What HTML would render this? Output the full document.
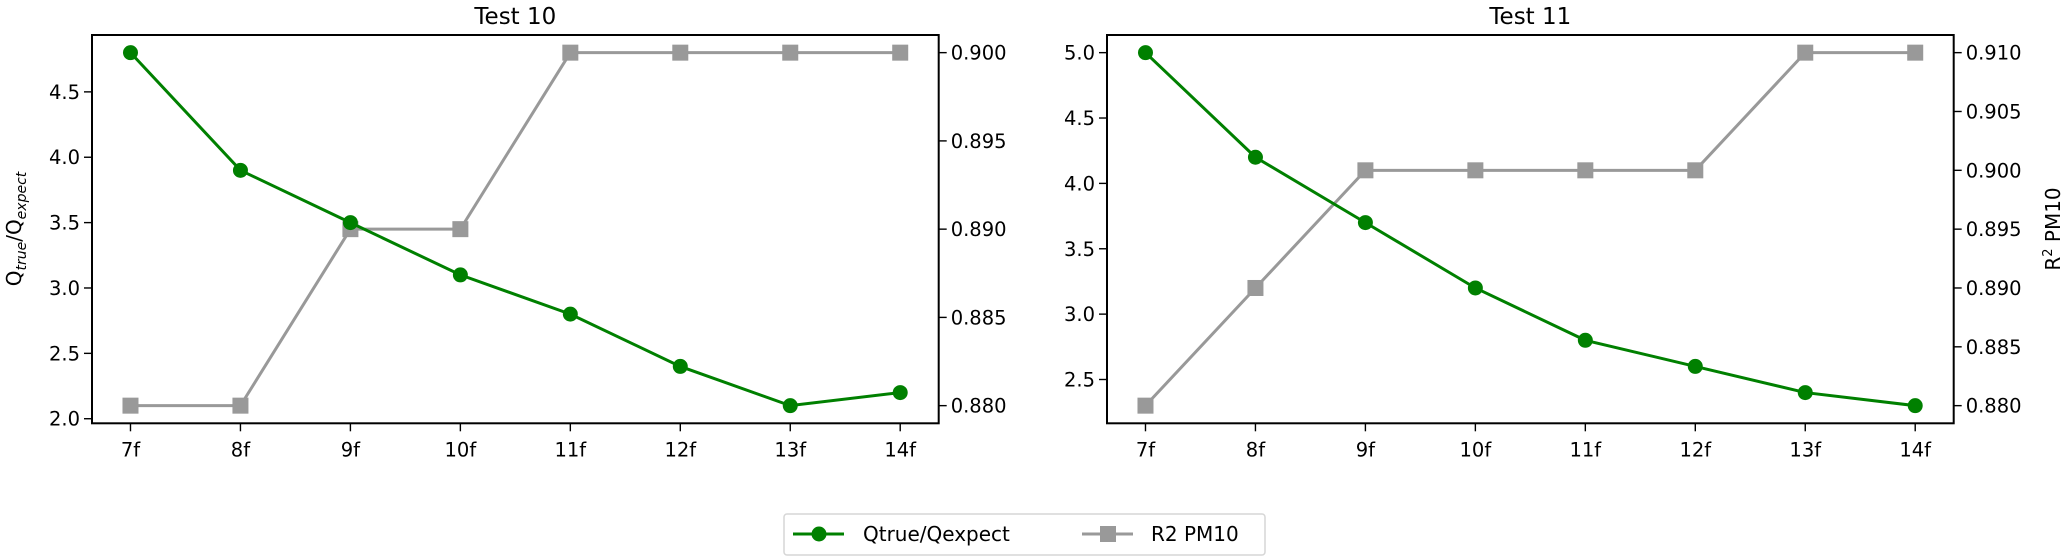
<!DOCTYPE html>
<html><head><meta charset="utf-8"><style>
html,body{margin:0;padding:0;background:#fff;}
svg{display:block;font-family:"DejaVu Sans","Liberation Sans",sans-serif;}
</style></head><body>
<svg id="chart" width="2067" height="557" viewBox="0 0 2067 557" xmlns="http://www.w3.org/2000/svg">
<g id="p0"></g>
<g id="p1"></g>
<g id="legend">
  <rect x="784" y="514" width="481" height="41" rx="3" fill="#fff" stroke="#d6d6d6" stroke-width="1.5"/>
  <g>
    <line x1="793" y1="534" x2="844" y2="534" stroke="#008000" stroke-width="3"/>
    <circle cx="819" cy="534" r="7.5" fill="#008000"/>
    <text x="863" y="541" font-size="20" fill="#000">Qtrue/Qexpect</text>
  </g>
  <g>
    <line x1="1082" y1="534" x2="1133" y2="534" stroke="#999" stroke-width="3"/>
    <rect x="1100" y="526" width="16" height="16" fill="#999"/>
    <text x="1151" y="541" font-size="20" fill="#000">R2 PM10</text>
  </g>
</g>
</svg>
<script>
const categories = ["7f","8f","9f","10f","11f","12f","13f","14f"];
const titles = ["Test 10","Test 11"];
const qTest10 = [4.8,3.9,3.5,3.1,2.8,2.4,2.1,2.2];
const r2Test10 = [0.880,0.880,0.890,0.890,0.900,0.900,0.900,0.900];
const qTest11 = [5.0,4.2,3.7,3.2,2.8,2.6,2.4,2.3];
const r2Test11 = [0.880,0.890,0.900,0.900,0.900,0.900,0.910,0.910];
const leftTicks10 = [2.0,2.5,3.0,3.5,4.0,4.5];
const rightTicks10 = [0.880,0.885,0.890,0.895,0.900];
const leftTicks11 = [2.5,3.0,3.5,4.0,4.5,5.0];
const rightTicks11 = [0.880,0.885,0.890,0.895,0.900,0.905,0.910];

const NS="http://www.w3.org/2000/svg";
function mk(parent,tag,attrs,txt){const e=document.createElementNS(NS,tag);for(const k in attrs)e.setAttribute(k,attrs[k]);if(txt!==undefined)e.textContent=txt;parent.appendChild(e);return e;}

function drawPanel(g,x0,title,q,r2,lt,rt,dec,leftLabel,rightLabel){
  const W=846.7,T=35,B=423.3,H=B-T;
  const n=categories.length;
  const X=i=>x0+W*((i+0.35)/((n-1)*1.1));
  const qmin=Math.min(...q),qmax=Math.max(...q),qm=(qmax-qmin)*0.05;
  const rmin=Math.min(...r2),rmax=Math.max(...r2),rm=(rmax-rmin)*0.05;
  const yL=v=>B-(v-(qmin-qm))/((qmax+qm)-(qmin-qm))*H;
  const yR=v=>B-(v-(rmin-rm))/((rmax+rm)-(rmin-rm))*H;
  const t=mk(g,'text',{x:x0+W/2,y:24,'font-size':23,'text-anchor':'middle',fill:'#000'},title);
  
  
  categories.forEach((c,i)=>{
    const x=X(i);
    mk(g,'line',{x1:x,y1:B,x2:x,y2:B+8,stroke:'#000','stroke-width':1.4});
    const l=mk(g,'text',{x:x,y:B+33,'font-size':19.5,'text-anchor':'middle',fill:'#000'},c);
    
    
  });
  lt.forEach(v=>{const y=yL(v);
    mk(g,'line',{x1:x0-8,y1:y,x2:x0,y2:y,stroke:'#000','stroke-width':1.4});
    const l=mk(g,'text',{x:x0-12,y:y+7,'font-size':19.5,'text-anchor':'end',fill:'#000'},v.toFixed(1));
    
    
  });
  rt.forEach(v=>{const y=yR(v);
    mk(g,'line',{x1:x0+W,y1:y,x2:x0+W+8,y2:y,stroke:'#000','stroke-width':1.4});
    const l=mk(g,'text',{x:x0+W+12,y:y+7,'font-size':19.5,'text-anchor':'start',fill:'#000'},v.toFixed(dec));
    
    
  });
  const rp=r2.map((v,i)=>X(i)+','+yR(v)).join(' ');
  const rl=mk(g,'polyline',{points:rp,fill:'none',stroke:'#999','stroke-width':3});
  
  
  r2.forEach((v,i)=>{const s=mk(g,'rect',{x:X(i)-8,y:yR(v)-8,width:16,height:16,fill:'#999'});
    
    });
  const qp=q.map((v,i)=>X(i)+','+yL(v)).join(' ');
  const ql=mk(g,'polyline',{points:qp,fill:'none',stroke:'#008000','stroke-width':3});
  
  
  q.forEach((v,i)=>{const c=mk(g,'circle',{cx:X(i),cy:yL(v),r:7.5,fill:'#008000'});
    
    });
  const fr=mk(g,'rect',{x:x0,y:T,width:W,height:H,fill:'none',stroke:'#000','stroke-width':2});
  
  
  if(leftLabel){
    const tl=mk(g,'text',{transform:`translate(21,229) rotate(-90)`,'font-size':20,'text-anchor':'middle',fill:'#000'});
    
    
    tl.innerHTML='Q<tspan font-style="italic" font-size="14" dy="5">true</tspan><tspan dy="-5">/Q</tspan><tspan font-style="italic" font-size="14" dy="5">expect</tspan>';
  }
  if(rightLabel){
    const tr=mk(g,'text',{transform:`translate(2060,229) rotate(-90)`,'font-size':20,'text-anchor':'middle',fill:'#000'});
    
    
    tr.innerHTML='R<tspan font-size="13" dy="-8">2</tspan><tspan dy="8"> PM10</tspan>';
  }
}
drawPanel(document.getElementById('p0'),92,titles[0],qTest10,r2Test10,leftTicks10,rightTicks10,3,true,false);
drawPanel(document.getElementById('p1'),1107,titles[1],qTest11,r2Test11,leftTicks11,rightTicks11,3,false,true);
</script>
</body></html>
